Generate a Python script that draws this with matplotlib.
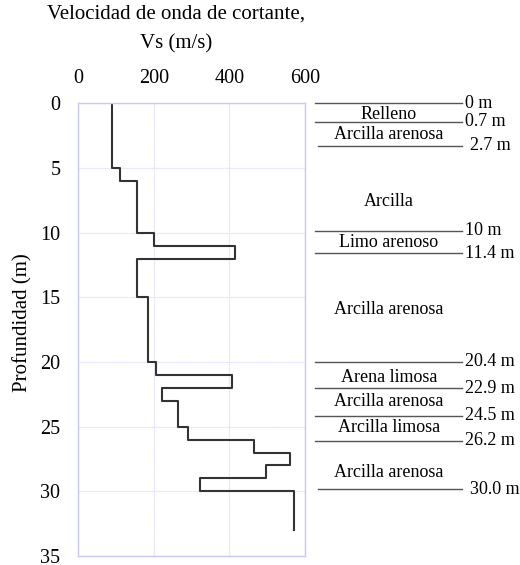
import numpy as np
import matplotlib
matplotlib.use("Agg")
import matplotlib.pyplot as plt
import matplotlib.transforms as mtransforms

plt.rcParams['font.family'] = ['Liberation Serif', 'DejaVu Serif']

# perfil de Vs: limites de capa (m) y velocidad en cada tramo (m/s)
depth_bounds = [0, 5, 6, 10, 11, 12, 15, 20, 21, 22, 23, 25, 26, 27, 28, 29, 30, 33]
vs_values = [90, 110, 155, 200, 415, 155, 185, 205, 408, 222, 265, 290, 465, 560, 497, 322, 570]

# estratigrafia (a la derecha)
layer_labels = ["0 m", "0.7 m", "2.7 m", "10 m", "11.4 m", "20.4 m",
                "22.9 m", "24.5 m", "26.2 m", "30.0 m"]
layer_line_depth = [0, 1.42, 3.30, 9.85, 11.59, 19.97, 22.02, 24.14, 26.07, 29.83]
soil_names = ["Relleno", "Arcilla arenosa", "Arcilla", "Limo arenoso", "Arcilla arenosa",
              "Arena limosa", "Arcilla arenosa", "Arcilla limosa", "Arcilla arenosa"]
soil_depth = [0.83, 2.45, 7.6, 10.77, 15.97, 21.17, 23.06, 25.07, 28.55]

fig = plt.figure(figsize=(5.2, 5.65), dpi=100)
ax = fig.add_axes([0.1506, 0.0159, 0.436, 0.8013])

# construir la linea escalonada
xs, ys = [], []
for i, v in enumerate(vs_values):
    xs += [v, v]
    ys += [depth_bounds[i], depth_bounds[i + 1]]
ax.plot(xs, ys, color='#333333', lw=1.5)

ax.set_xlim(0, 600)
ax.set_ylim(35, 0)
ax.set_xticks([0, 200, 400, 600])
ax.set_yticks(np.arange(0, 36, 5))
ax.xaxis.tick_top()
ax.tick_params(length=0, labelsize=14.5)
ax.tick_params(axis='x', pad=11)
ax.tick_params(axis='y', pad=13)
ax.grid(True, color='#e0e0fa', lw=0.9, ls=(0, (1, 0.5)))
for s in ax.spines.values():
    s.set_color('#c8c8f4')
    s.set_linewidth(1.0)

ax.xaxis.set_label_position('top')
ax.set_xlabel("Velocidad de onda de cortante,\nVs (m/s)", fontsize=15, linespacing=1.75)
ax.xaxis.set_label_coords(0.431, 1.12)
ax.set_ylabel("Profundidad (m)", fontsize=15)
ax.yaxis.set_label_coords(-0.20, 0.515)

trans = mtransforms.blended_transform_factory(ax.transAxes, ax.transData)
for lab, d in zip(layer_labels, layer_line_depth):
    x0 = 1.057 if lab in ("2.7 m", "30.0 m") else 1.044
    ax.plot([x0, 1.691], [d, d], transform=trans, color='#555555', lw=1.0, clip_on=False)
    xt = 1.728 if lab in ("2.7 m", "30.0 m") else 1.706
    ax.text(xt, d, lab, transform=trans, fontsize=13, ha='left', va='center')

for name, d in zip(soil_names, soil_depth):
    ax.text(1.370, d, name, transform=trans, fontsize=13, ha='center', va='center')

fig.savefig("out.png", dpi=100)
